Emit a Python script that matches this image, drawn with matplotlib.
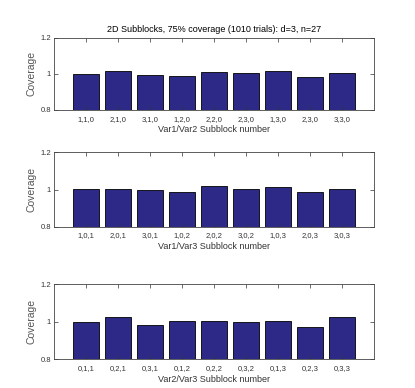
import matplotlib
matplotlib.use('Agg')
import matplotlib.pyplot as plt
import numpy as np

plt.rcParams['font.family'] = ['Liberation Sans Narrow', 'Liberation Sans', 'DejaVu Sans']

title = "2D Subblocks, 75% coverage (1010 trials): d=3, n=27"

labels_12 = ['1,1,0', '2,1,0', '3,1,0', '1,2,0', '2,2,0', '2,3,0', '1,3,0', '2,3,0', '3,3,0']
cov_12 = [0.998, 1.015, 0.993, 0.989, 1.011, 1.007, 1.018, 0.983, 1.006]

labels_13 = ['1,0,1', '2,0,1', '3,0,1', '1,0,2', '2,0,2', '3,0,2', '1,0,3', '2,0,3', '3,0,3']
cov_13 = [1.004, 1.002, 0.998, 0.986, 1.020, 1.002, 1.016, 0.986, 1.004]

labels_23 = ['0,1,1', '0,2,1', '0,3,1', '0,1,2', '0,2,2', '0,3,2', '0,1,3', '0,2,3', '0,3,3']
cov_23 = [0.998, 1.023, 0.981, 1.002, 1.004, 0.996, 1.004, 0.973, 1.025]

xlabels = ['Var1/Var2 Subblock number', 'Var1/Var3 Subblock number', 'Var2/Var3 Subblock number']

fig = plt.figure(figsize=(4.15, 3.88), dpi=100)
rects = [[0.130, 0.7165, 0.771, 0.186],
         [0.130, 0.415, 0.771, 0.193],
         [0.130, 0.074, 0.771, 0.194]]

data = [(labels_12, cov_12), (labels_13, cov_13), (labels_23, cov_23)]
for k, (labs, vals) in enumerate(data):
    ax = fig.add_axes(rects[k])
    x = np.arange(1, len(vals) + 1)
    ax.bar(x, vals, width=0.8, color='#2d2a87', edgecolor='black', linewidth=0.6)
    ax.set_xlim(0, 10)
    ax.set_ylim(0.8, 1.2)
    ax.set_xticks(x)
    ax.set_xticklabels(labs, fontsize=5.5)
    ax.set_yticks([0.8, 1.0, 1.2])
    ax.set_yticklabels(['0.8', '1', '1.2'], fontsize=5.5)
    ax.tick_params(direction='in', length=3, width=0.5, top=True, right=True,
                   colors='#333333')
    ax.tick_params(axis='y', pad=2)
    ax.tick_params(axis='x', pad=4)
    for s in ax.spines.values():
        s.set_linewidth(0.6)
        s.set_color('#444444')
    ax.set_ylabel('Coverage', fontsize=7.5, labelpad=3, color='#555555')
    ax.set_xlabel(xlabels[k], fontsize=6.5, labelpad=2, color='#333333')
    if k == 0:
        ax.set_title(title, fontsize=6.5, pad=4)

fig.savefig('out.png', dpi=100)
